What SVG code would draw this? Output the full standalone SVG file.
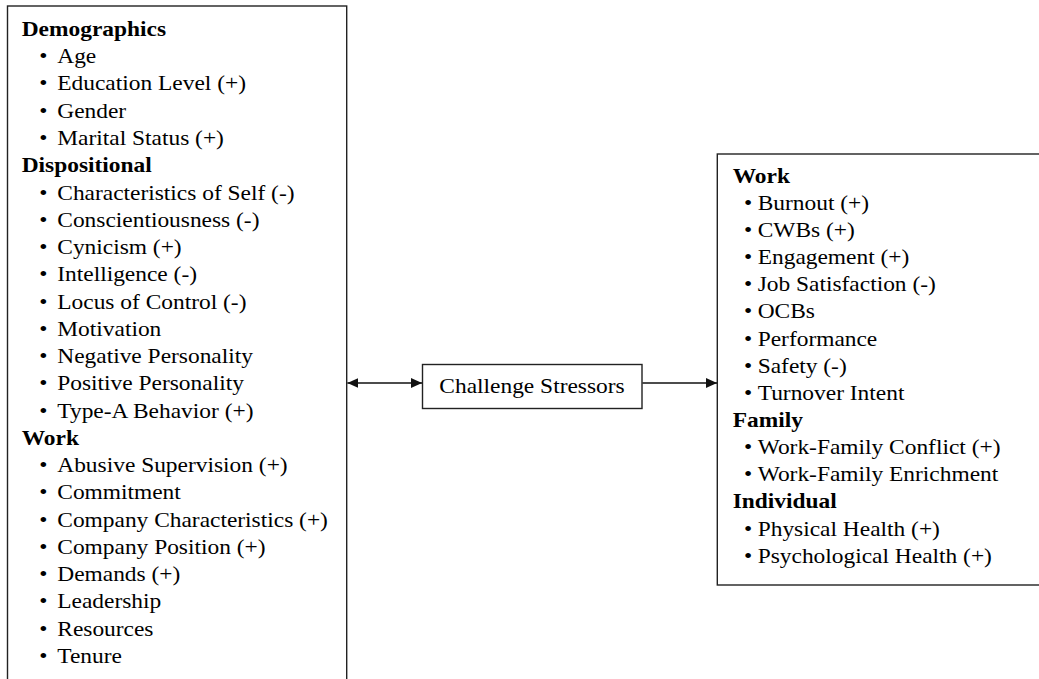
<svg xmlns="http://www.w3.org/2000/svg" width="1039" height="679" viewBox="0 0 1039 679">
<style>
text{font-family:"Liberation Serif","Times New Roman",serif;font-size:21px;fill:#000}
.h{font-weight:bold}
.box{fill:#fff;stroke:#222;stroke-width:1.4}
.conn{stroke:#111;stroke-width:1.4;fill:none}
</style>
<defs>
<marker id="ah" viewBox="0 0 11 10" refX="11" refY="5" markerWidth="11" markerHeight="10" markerUnits="userSpaceOnUse" orient="auto-start-reverse">
<path d="M0,0 L11,5 L0,10 z" fill="#111"/>
</marker>
</defs>
<rect width="1039" height="679" fill="#fff"/>
<g id="node-antecedents">
<rect class="box" x="7.5" y="6" width="339.2" height="690"/>
<g transform="translate(21.7 0) scale(1.115 1)">
<text class="h" x="0" y="36">Demographics</text>
<text x="15.8" y="63.3">•</text><text x="31.9" y="63.3">Age</text>
<text x="15.8" y="90.5">•</text><text x="31.9" y="90.5">Education Level (+)</text>
<text x="15.8" y="117.8">•</text><text x="31.9" y="117.8">Gender</text>
<text x="15.8" y="145">•</text><text x="31.9" y="145">Marital Status (+)</text>
<text class="h" x="0" y="172.3">Dispositional</text>
<text x="15.8" y="199.6">•</text><text x="31.9" y="199.6">Characteristics of Self (-)</text>
<text x="15.8" y="226.8">•</text><text x="31.9" y="226.8">Conscientiousness (-)</text>
<text x="15.8" y="254.1">•</text><text x="31.9" y="254.1">Cynicism (+)</text>
<text x="15.8" y="281.3">•</text><text x="31.9" y="281.3">Intelligence (-)</text>
<text x="15.8" y="308.6">•</text><text x="31.9" y="308.6">Locus of Control (-)</text>
<text x="15.8" y="335.9">•</text><text x="31.9" y="335.9">Motivation</text>
<text x="15.8" y="363.1">•</text><text x="31.9" y="363.1">Negative Personality</text>
<text x="15.8" y="390.4">•</text><text x="31.9" y="390.4">Positive Personality</text>
<text x="15.8" y="417.6">•</text><text x="31.9" y="417.6">Type-A Behavior (+)</text>
<text class="h" x="0" y="444.9">Work</text>
<text x="15.8" y="472.2">•</text><text x="31.9" y="472.2">Abusive Supervision (+)</text>
<text x="15.8" y="499.4">•</text><text x="31.9" y="499.4">Commitment</text>
<text x="15.8" y="526.7">•</text><text x="31.9" y="526.7">Company Characteristics (+)</text>
<text x="15.8" y="553.9">•</text><text x="31.9" y="553.9">Company Position (+)</text>
<text x="15.8" y="581.2">•</text><text x="31.9" y="581.2">Demands (+)</text>
<text x="15.8" y="608.5">•</text><text x="31.9" y="608.5">Leadership</text>
<text x="15.8" y="635.7">•</text><text x="31.9" y="635.7">Resources</text>
<text x="15.8" y="663">•</text><text x="31.9" y="663">Tenure</text>
</g>
</g>
<g id="node-challenge">
<rect class="box" x="422.5" y="364.5" width="219.5" height="44"/>
<g transform="translate(532 0) scale(1.115 1)">
<text x="0" y="393" text-anchor="middle">Challenge Stressors</text>
</g>
</g>
<g id="node-outcomes">
<rect class="box" x="717.3" y="154" width="340" height="431"/>
<g transform="translate(732.7 0) scale(1.115 1)">
<text class="h" x="0" y="182.7">Work</text>
<text x="10.1" y="209.9">•</text><text x="22.4" y="209.9">Burnout (+)</text>
<text x="10.1" y="237">•</text><text x="22.4" y="237">CWBs (+)</text>
<text x="10.1" y="264.2">•</text><text x="22.4" y="264.2">Engagement (+)</text>
<text x="10.1" y="291.3">•</text><text x="22.4" y="291.3">Job Satisfaction (-)</text>
<text x="10.1" y="318.5">•</text><text x="22.4" y="318.5">OCBs</text>
<text x="10.1" y="345.6">•</text><text x="22.4" y="345.6">Performance</text>
<text x="10.1" y="372.8">•</text><text x="22.4" y="372.8">Safety (-)</text>
<text x="10.1" y="399.9">•</text><text x="22.4" y="399.9">Turnover Intent</text>
<text class="h" x="0" y="427.1">Family</text>
<text x="10.1" y="454.2">•</text><text x="22.4" y="454.2">Work-Family Conflict (+)</text>
<text x="10.1" y="481.4">•</text><text x="22.4" y="481.4">Work-Family Enrichment</text>
<text class="h" x="0" y="508.5">Individual</text>
<text x="10.1" y="535.7">•</text><text x="22.4" y="535.7">Physical Health (+)</text>
<text x="10.1" y="562.8">•</text><text x="22.4" y="562.8">Psychological Health (+)</text>
</g>
</g>
<g id="connectors">
<line class="conn" x1="347.4" y1="383" x2="422" y2="383" marker-start="url(#ah)" marker-end="url(#ah)"/>
<line class="conn" x1="642.5" y1="383" x2="717" y2="383" marker-end="url(#ah)"/>
</g>
</svg>
